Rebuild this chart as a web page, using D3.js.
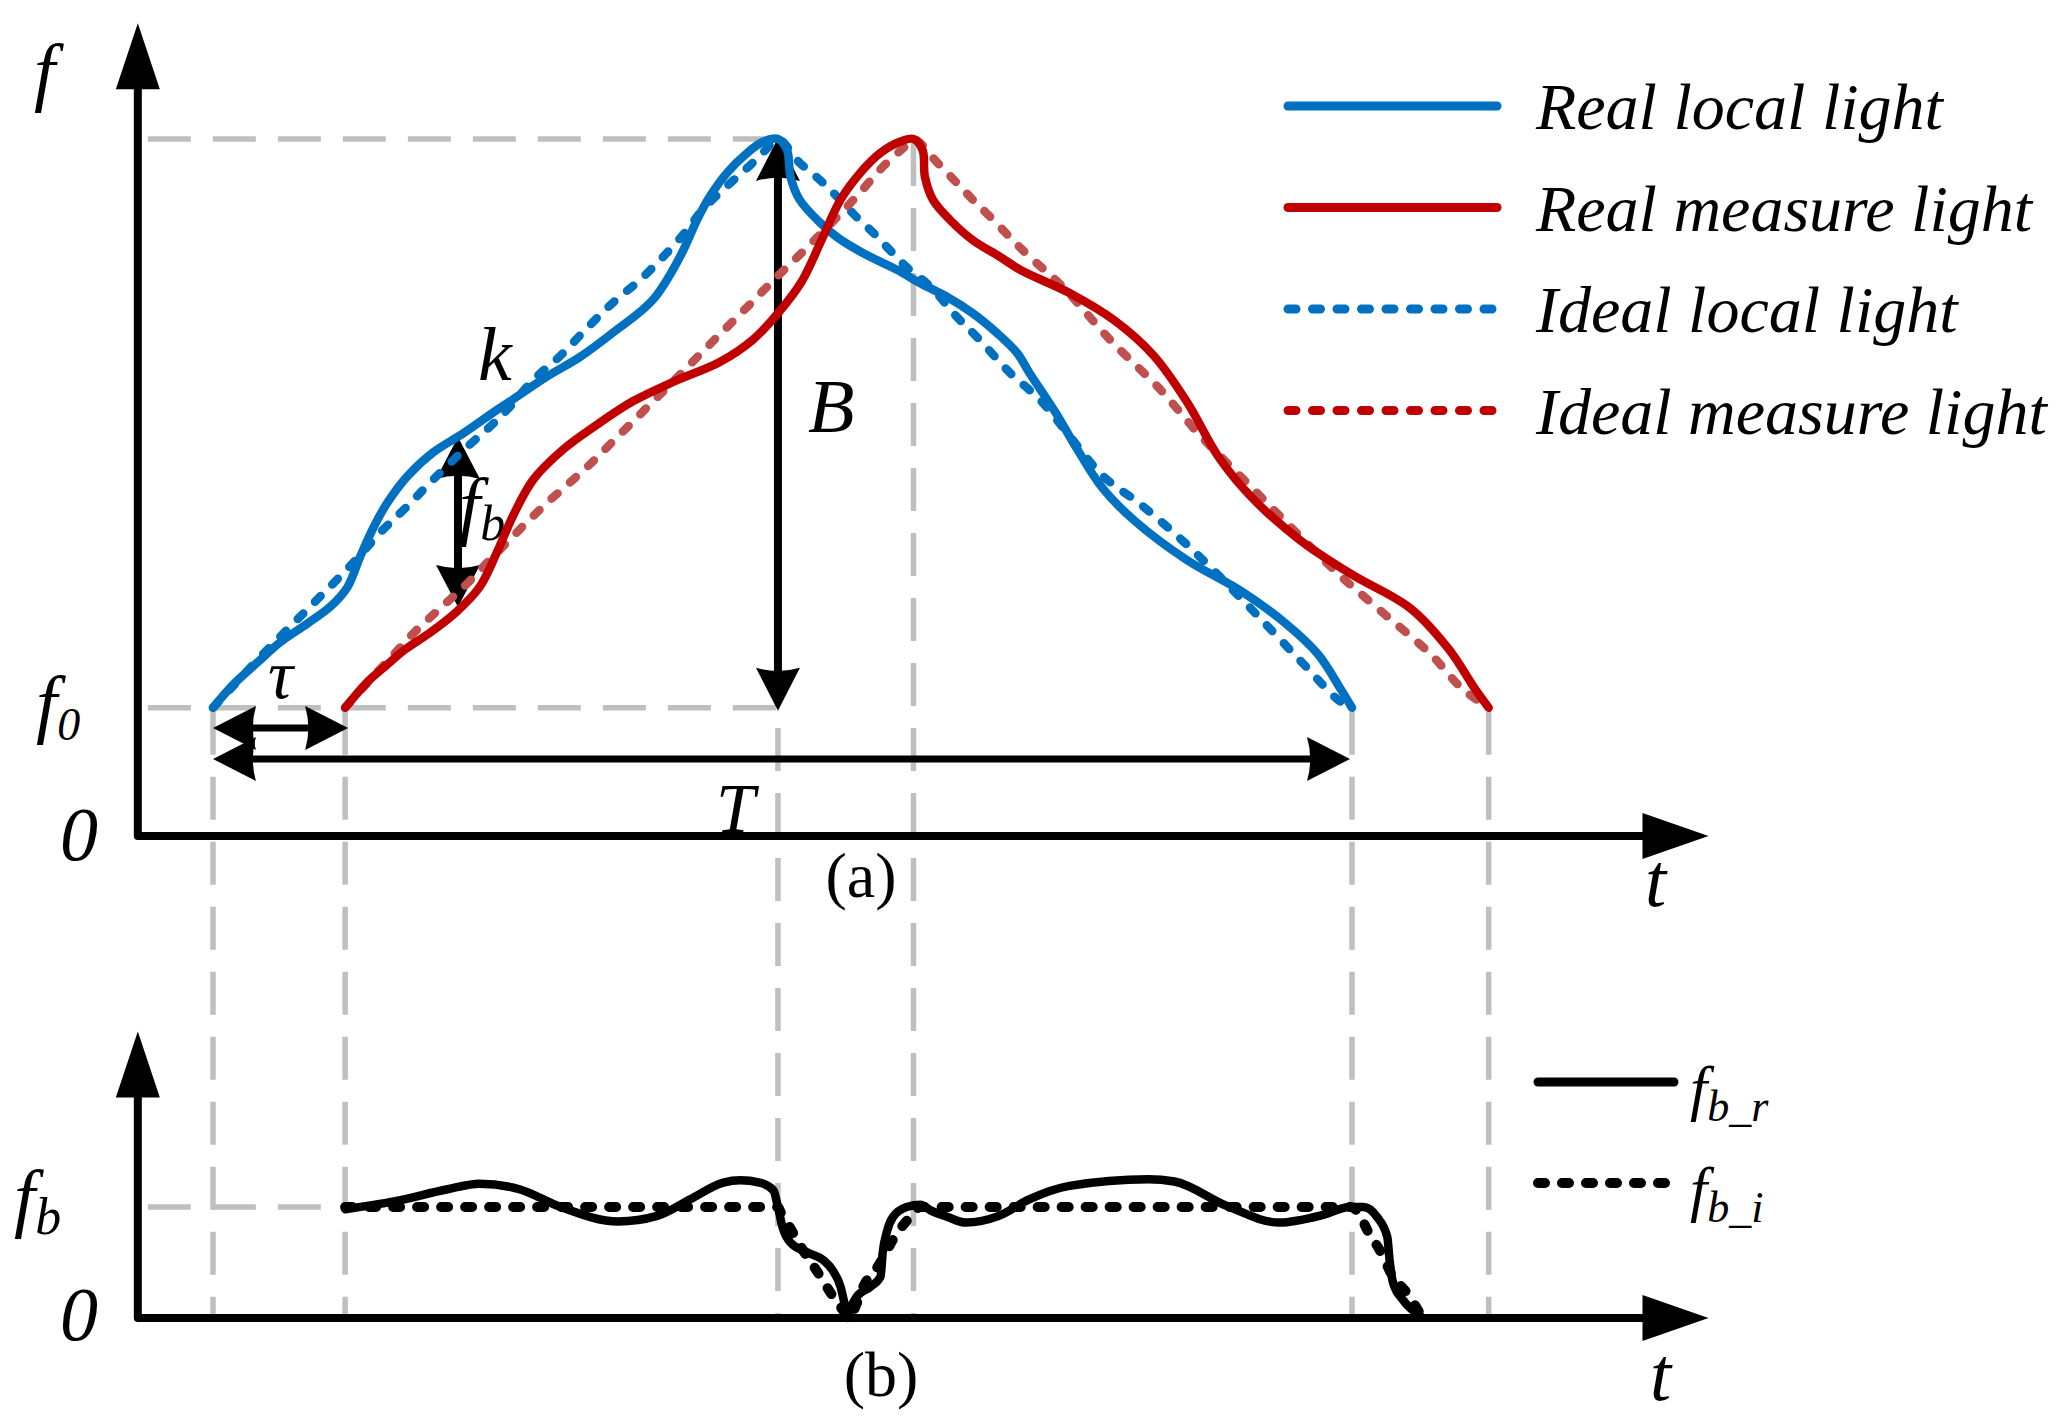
<!DOCTYPE html>
<html><head><meta charset="utf-8">
<script src="https://cdn.jsdelivr.net/npm/d3@7"></script>
<style>body{margin:0;background:#fff}svg{display:block}</style>
</head><body>
<script>
// ---------------- data (t in % of T, f in % of peak) ----------------
const T = 100, tau = 11.6, f0 = 18.4, fPeak = 100;
const tPeakLocal = 49.6, tPeakMeasure = 61.5, tEndMeasure = 112.0;
const tAxisMin = -6.6, tAxisMax = 131.3, fAxisMax = 116.6, fbAxisMax = 2.58;

const realLocal = [[0,18.4],[1.7,21.6],[3.9,24.9],[5.9,27.8],[8.3,30.5],[10.3,32.9],[11.8,35.7],[12.9,40.0],[14.1,44.3],[15.3,47.8],[17.0,51.5],[19.3,55.0],[22.0,57.8],[24.9,61.1],[26.3,62.6],[29.3,65.9],[32.2,68.7],[35.1,72.2],[38.6,76.9],[41.0,83.1],[42.5,88.4],[43.6,91.7],[45.1,95.1],[46.9,98.0],[48.3,99.6],[49.6,100],[50.4,98.4],[50.7,94.6],[51.5,91.3],[53.3,88.0],[54.8,85.9],[57.1,83.6],[60.1,81.2],[62.1,79.3],[64.5,77.3],[66.7,75.0],[68.8,72.2],[70.6,69.3],[71.7,66.4],[74.0,60.7],[75.8,55.7],[78.1,49.9],[81.0,45.1],[85.5,39.6],[90.2,35.2],[94.1,30.6],[97.0,26.1],[99.0,21.1],[100,18.4]];
const realMeasure = [[11.6,18.4],[13.5,22.0],[15.3,24.6],[16.9,26.8],[19.0,29.1],[21.4,32.2],[23.4,35.7],[24.9,40.6],[26.3,45.8],[28.1,51.1],[30.7,55.4],[33.7,59.0],[36.9,62.4],[40.6,65.3],[44.5,68.0],[47.4,71.2],[49.6,75.0],[51.7,79.6],[53.4,85.4],[55.1,91.3],[56.8,95.1],[58.6,98.0],[60.3,99.6],[61.5,100],[62.3,98.4],[62.5,94.6],[63.2,91.3],[64.7,88.4],[66.7,85.5],[69.1,83.1],[70.9,81.2],[75.2,77.9],[79.2,73.9],[82.6,68.9],[85.5,62.3],[88.4,54.1],[91.3,48.4],[95.4,42.5],[99.9,37.6],[105.1,32.7],[108.5,26.8],[110.8,21.1],[112.0,18.4]];
const idealLocal = [[0,18.4],[4.4,26.1],[8.4,32.7],[11.9,38.5],[14.9,43.9],[17.0,47.2],[19.3,51.1],[22.3,55.8],[24.3,58.7],[25.8,61.1],[28.1,65.4],[30.5,68.9],[32.8,72.8],[35.1,76.5],[37.5,79.8],[39.7,83.4],[41.6,86.9],[42.8,89.5],[44.3,92.0],[45.7,94.1],[47.2,96.3],[48.5,98.4],[49.6,100],[51.5,96.6],[53.3,94.1],[54.8,91.7],[56.5,88.8],[58.0,86.5],[59.4,84.1],[60.9,81.6],[63.0,78.8],[65.3,74.5],[67.3,71.2],[70.0,66.4],[72.6,62.6],[75.2,57.4],[78.1,51.7],[81.5,47.5],[85.5,41.8],[89.6,35.2],[93.0,29.4],[95.9,24.4],[98.8,19.5],[100,18.4]];
const idealMeasure = [[11.6,18.4],[13.8,22.4],[15.9,26.1],[17.6,29.1],[19.9,32.6],[22.3,36.2],[24.3,39.6],[26.1,42.6],[27.8,45.4],[29.6,48.2],[31.6,51.1],[33.4,53.8],[35.1,56.6],[36.9,59.5],[38.6,62.3],[40.4,65.2],[43.9,71.0],[46.9,75.9],[49.5,80.2],[52.2,84.5],[54.8,88.8],[56.8,92.3],[58.8,96.0],[60.6,98.7],[61.5,100],[63.6,96.6],[65.3,93.7],[66.7,91.3],[68.5,88.4],[70.2,85.5],[71.7,83.1],[74.6,78.8],[78.7,71.3],[83.2,64.0],[86.7,57.4],[90.7,50.8],[94.7,44.2],[98.8,37.6],[102.8,31.9],[106.9,26.1],[109.7,21.1],[112.0,18.4]];

// bottom panel: f_b relative to nominal f_b
const fbReal = [[11.6,0.98],[15.9,1.05],[20.6,1.16],[23.4,1.21],[26.9,1.16],[30.3,1.01],[35.6,0.87],[39.0,0.92],[41.9,1.07],[44.8,1.22],[46.3,1.24],[48.0,1.22],[49.2,1.15],[49.6,1.0],[50.0,0.82],[50.7,0.68],[52.2,0.59],[53.6,0.52],[54.4,0.43],[55.1,0.28],[55.5,0.10],[55.7,0.0],[55.9,0.07],[56.5,0.19],[57.7,0.28],[58.6,0.37],[58.8,0.59],[59.2,0.79],[59.7,0.91],[60.9,1.0],[62.1,1.02],[63.0,0.97],[64.5,0.91],[66.1,0.86],[69.0,0.92],[71.7,1.07],[75.2,1.19],[82.1,1.25],[84.4,1.23],[89.0,1.01],[93.6,0.86],[97.5,0.93],[99.8,1.0],[101.0,1.0],[102.2,0.91],[103.1,0.73],[103.3,0.52],[103.6,0.32],[104.5,0.16],[106.0,0.02]];
const fbIdeal = [[11.6,1],[49.6,1],[49.8,0.96],[50.8,0.79],[51.8,0.61],[53.1,0.41],[54.2,0.23],[55.3,0.07],[55.7,0],[57.4,0.34],[58.0,0.41],[60.1,0.77],[61.2,0.91],[62.1,1],[99.8,1],[100.5,0.96],[101.4,0.78],[102.5,0.60],[103.6,0.37],[104.8,0.23],[105.8,0.07],[106.2,0]];

const legendTop = ["Real local light","Real measure light","Ideal local light","Ideal measure light"];
const legendBottom = [["f","b_r"],["f","b_i"]];

// ---------------- drawing ----------------
const W = 2057, H = 1427;
const BLUE = "#0070C0", RED = "#C00000", RED2 = "#C0504D", GREY = "#BFBFBF";
const FONT = "'Liberation Serif','Times New Roman',serif";

const svg = d3.select("body").append("svg").attr("width", W).attr("height", H);

const x = d3.scaleLinear().domain([0, 100]).range([213, 1352]);
const y = d3.scaleLinear().domain([0, 100]).range([836, 139]);
const yb = d3.scaleLinear().domain([0, 1]).range([1318, 1207]);

const x0 = x(tAxisMin);

// grey guides
const gGuide = svg.append("g").attr("stroke", GREY).attr("stroke-width", 5.5).attr("stroke-dasharray", "43,22").attr("fill", "none");
const guides = [[0, f0], [tau, f0], [tPeakLocal, fPeak], [tPeakMeasure, fPeak], [T, f0], [tEndMeasure, f0]];
guides.forEach(([t, f]) => {
  gGuide.append("line").attr("x1", x(t)).attr("x2", x(t)).attr("y1", y(f) + 4).attr("y2", yb(0));
});
gGuide.append("line").attr("x1", x0 + 10).attr("x2", x(tPeakLocal)).attr("y1", y(fPeak)).attr("y2", y(fPeak));
gGuide.append("line").attr("x1", x0 + 10).attr("x2", x(tPeakLocal)).attr("y1", y(f0)).attr("y2", y(f0));
gGuide.append("line").attr("x1", x0 + 10).attr("x2", x(tau) - 20).attr("y1", yb(1)).attr("y2", yb(1));

// arrows
function drawArrow(g, p1, p2, head1, head2, L, Wd, sw) {
  const dx = p2[0] - p1[0], dy = p2[1] - p1[1], len = Math.hypot(dx, dy);
  const ux = dx / len, uy = dy / len, nx = -uy, ny = ux;
  let s1 = p1, s2 = p2;
  if (head1) s1 = [p1[0] + ux * L * 0.8, p1[1] + uy * L * 0.8];
  if (head2) s2 = [p2[0] - ux * L * 0.8, p2[1] - uy * L * 0.8];
  g.append("line").attr("x1", s1[0]).attr("y1", s1[1]).attr("x2", s2[0]).attr("y2", s2[1])
    .attr("stroke", "#000").attr("stroke-width", sw);
  const head = (tip, sx, sy) => {
    const bx = tip[0] + sx * L, by = tip[1] + sy * L;
    g.append("path").attr("fill", "#000")
      .attr("d", `M${tip[0]},${tip[1]}L${bx + nx * Wd},${by + ny * Wd}Q${tip[0] + sx * L * 0.85},${tip[1] + sy * L * 0.85} ${bx - nx * Wd},${by - ny * Wd}Z`);
  };
  if (head1) head(p1, ux, uy);
  if (head2) head(p2, -ux, -uy);
}
const gArr = svg.append("g");
drawArrow(gArr, [x(tPeakLocal), y(fPeak) - 1], [x(tPeakLocal), y(f0) + 3], true, true, 43, 22, 8);
drawArrow(gArr, [458, 437], [458, 607], true, true, 42, 22, 8);
drawArrow(gArr, [x(0), 728], [x(tau) + 3, 728], true, true, 43, 22, 7);
drawArrow(gArr, [x(0), 759], [x(T) - 2, 759], true, true, 43, 22, 7);

// labels
const gTxt = svg.append("g").attr("font-family", FONT).attr("font-style", "italic").attr("fill", "#000");
function lab(tx, ty, main, sub, size, subSize, dy, anchor) {
  const t = gTxt.append("text").attr("x", tx).attr("y", ty).attr("font-size", size).attr("text-anchor", anchor || "start");
  t.append("tspan").text(main);
  if (sub) t.append("tspan").attr("dy", dy).attr("font-size", subSize).text(sub);
  return t;
}
lab(34, 97, "f", null, 76);
lab(36, 729, "f", "0", 76, 46, 11);
lab(60, 860, "0", null, 76);
lab(478, 380, "k", null, 76);
lab(808, 432, "B", null, 76);
lab(459, 531, "f", "b", 76, 50, 9);
lab(268, 698, "τ", null, 70);
lab(716, 832, "T", null, 70);
lab(1645, 906, "t", null, 76);
lab(14, 1223, "f", "b", 76, 52, 11);
lab(60, 1340, "0", null, 76);
lab(1650, 1400, "t", null, 76);
gTxt.append("text").attr("x", 861).attr("y", 897).attr("font-size", 64).attr("font-style", "normal").attr("text-anchor", "middle").text("(a)");
gTxt.append("text").attr("x", 881).attr("y", 1396).attr("font-size", 64).attr("font-style", "normal").attr("text-anchor", "middle").text("(b)");

// curves
const line = d3.line().x(d => x(d[0])).y(d => y(d[1])).curve(d3.curveCatmullRom.alpha(0.5));
const lineB = d3.line().x(d => x(d[0])).y(d => yb(d[1])).curve(d3.curveMonotoneX);
const gC = svg.append("g").attr("fill", "none").attr("stroke-linecap", "round").attr("stroke-linejoin", "round");
const DASH = "8,16.5";
gC.append("path").attr("d", line(idealLocal)).attr("stroke", BLUE).attr("stroke-width", 8.5).attr("stroke-dasharray", DASH);
gC.append("path").attr("d", line(idealMeasure)).attr("stroke", RED2).attr("stroke-width", 8.5).attr("stroke-dasharray", DASH);
gC.append("path").attr("d", line(realLocal)).attr("stroke", BLUE).attr("stroke-width", 8.5);
gC.append("path").attr("d", line(realMeasure)).attr("stroke", RED).attr("stroke-width", 8.5);
gC.append("path").attr("d", lineB(fbIdeal)).attr("stroke", "#000").attr("stroke-width", 10).attr("stroke-dasharray", "7,17");
gC.append("path").attr("d", lineB(fbReal)).attr("stroke", "#000").attr("stroke-width", 8.5);

// axes
const gAx = svg.append("g");
function axis(yBase, yTop) {
  gAx.append("path").attr("fill", "none").attr("stroke", "#000").attr("stroke-width", 8).attr("stroke-linejoin", "round")
    .attr("d", `M${x0},${yTop + 50}L${x0},${yBase}L${x(tAxisMax) - 50},${yBase}`);
  gAx.append("path").attr("fill", "#000").attr("d", `M${x0},${yTop}L${x0 + 22},${yTop + 66}L${x0 - 22},${yTop + 66}Z`);
  const xt = x(tAxisMax);
  gAx.append("path").attr("fill", "#000").attr("d", `M${xt},${yBase}L${xt - 66},${yBase - 23}L${xt - 66},${yBase + 23}Z`);
}
axis(y(0), y(fAxisMax));
axis(yb(0), yb(fbAxisMax));

// legends
const gL = svg.append("g");
const legStyles = [[BLUE, null], [RED, null], [BLUE, DASH], [RED, DASH]];
legendTop.forEach((name, i) => {
  const ly = 106 + i * 101.5;
  gL.append("line").attr("x1", 1288).attr("x2", 1497).attr("y1", ly).attr("y2", ly)
    .attr("stroke", legStyles[i][0]).attr("stroke-width", 9).attr("stroke-linecap", "round")
    .attr("stroke-dasharray", legStyles[i][1]);
  gL.append("text").attr("x", 1536).attr("y", ly + 23).attr("font-family", FONT).attr("font-style", "italic")
    .attr("font-size", 66).text(name);
});
legendBottom.forEach((lb, i) => {
  const ly = 1082 + i * 101;
  gL.append("line").attr("x1", 1538).attr("x2", 1674).attr("y1", ly).attr("y2", ly)
    .attr("stroke", "#000").attr("stroke-width", i ? 10 : 9).attr("stroke-linecap", "round")
    .attr("stroke-dasharray", i ? "7,17" : null);
  const t = gL.append("text").attr("x", 1690).attr("y", ly + 27).attr("font-family", FONT).attr("font-style", "italic").attr("font-size", 62);
  t.append("tspan").text(lb[0]);
  t.append("tspan").attr("dy", 12).attr("font-size", 44).text(lb[1]);
});
</script>
</body></html>
